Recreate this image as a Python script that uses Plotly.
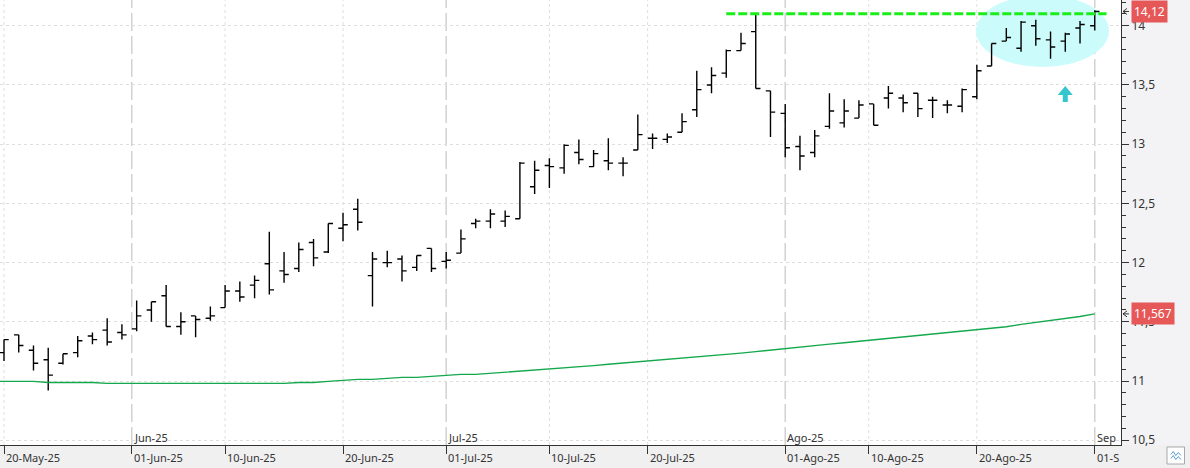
import pandas as pd
import plotly.graph_objects as go

# ---------------- data ----------------
trade_days = pd.bdate_range("2025-05-20", "2025-09-01")  # 75 sessions

opens = [11.24, 11.39, 11.26, 11.18, 11.15, 11.24, 11.38, 11.43, 11.41, 11.44,
         11.60, 11.72, 11.46, 11.55, 11.53, 11.62, 11.76, 11.81, 11.99, 11.93,
         11.95, 12.17, 12.09, 12.29, 12.45, 11.89, 12.00, 12.03, 11.96, 12.12,
         12.01, 12.08, 12.33, 12.35, 12.35, 12.37, 12.64, 12.82, 12.80, 12.93,
         12.81, 12.86, 12.84, 12.95, 13.05, 13.04, 13.10, 13.29, 13.50, 13.60,
         13.79, 13.95, 13.45, 13.26, 12.98, 12.93, 13.15, 13.18, 13.22, 13.34,
         13.39, 13.39, 13.43, 13.37, 13.33, 13.32, 13.40, 13.66, 13.87, 13.81,
         14.00, 13.88, 13.87, 13.98, 14.00]
highs = [11.35, 11.39, 11.30, 11.28, 11.23, 11.38, 11.41, 11.53, 11.48, 11.68,
         11.67, 11.81, 11.58, 11.55, 11.63, 11.81, 11.84, 11.89, 12.26, 12.09,
         12.17, 12.20, 12.33, 12.42, 12.54, 12.09, 12.10, 12.06, 12.06, 12.12,
         12.09, 12.28, 12.37, 12.45, 12.44, 12.85, 12.86, 12.88, 13.00, 13.04,
         12.95, 13.05, 12.89, 13.25, 13.09, 13.09, 13.26, 13.62, 13.65, 13.80,
         13.94, 14.10, 13.45, 13.34, 13.07, 13.12, 13.43, 13.38, 13.37, 13.34,
         13.49, 13.42, 13.43, 13.40, 13.37, 13.47, 13.67, 13.85, 13.98, 14.04,
         14.05, 13.95, 13.94, 14.04, 14.13]
lows = [11.17, 11.24, 11.09, 10.92, 11.14, 11.20, 11.31, 11.30, 11.35, 11.42,
        11.50, 11.46, 11.39, 11.37, 11.51, 11.62, 11.67, 11.70, 11.73, 11.83,
        11.92, 11.97, 12.08, 12.18, 12.27, 11.63, 11.96, 11.84, 11.93, 11.92,
        11.95, 12.08, 12.29, 12.29, 12.30, 12.37, 12.58, 12.63, 12.75, 12.83,
        12.81, 12.78, 12.73, 12.95, 12.96, 13.01, 13.10, 13.23, 13.43, 13.56,
        13.79, 13.47, 13.06, 12.89, 12.78, 12.89, 13.13, 13.14, 13.22, 13.16,
        13.30, 13.27, 13.23, 13.22, 13.26, 13.27, 13.38, 13.66, 13.87, 13.78,
        13.83, 13.72, 13.78, 13.85, 13.96]
closes = [11.35, 11.30, 11.15, 11.05, 11.23, 11.34, 11.35, 11.33, 11.39, 11.55,
          11.67, 11.46, 11.50, 11.52, 11.55, 11.76, 11.71, 11.85, 11.77, 11.90,
          12.11, 12.04, 12.33, 12.32, 12.34, 12.03, 12.00, 11.93, 12.06, 11.95,
          12.02, 12.20, 12.35, 12.41, 12.39, 12.84, 12.78, 12.81, 12.99, 12.87,
          12.92, 12.84, 12.84, 13.08, 13.05, 13.06, 13.19, 13.46, 13.58, 13.79,
          13.85, 13.47, 13.27, 12.97, 12.90, 13.07, 13.28, 13.28, 13.33, 13.16,
          13.43, 13.35, 13.30, 13.37, 13.33, 13.46, 13.62, 13.85, 13.90, 14.03,
          13.89, 13.82, 13.93, 14.01, 14.12]

# moving average, starting one session before the first bar (index -1)
ma_values = [10.997, 10.997, 10.997, 10.997, 10.988, 10.988, 10.988, 10.988,
             10.980, 10.980, 10.980, 10.980, 10.980, 10.980, 10.980, 10.980,
             10.980, 10.980, 10.980, 10.980, 10.980, 10.988, 10.988, 10.997,
             11.005, 11.014, 11.014, 11.022, 11.031, 11.031, 11.039, 11.048,
             11.056, 11.056, 11.065, 11.073, 11.082, 11.090, 11.098, 11.110,
             11.120, 11.130, 11.142, 11.152, 11.163, 11.176, 11.185, 11.195,
             11.203, 11.213, 11.225, 11.236, 11.248, 11.262, 11.275, 11.287,
             11.300, 11.312, 11.323, 11.335, 11.347, 11.360, 11.372, 11.386,
             11.397, 11.408, 11.419, 11.430, 11.445, 11.458, 11.478, 11.494,
             11.509, 11.524, 11.545, 11.567]

tick_dates = ["2025-05-20", "2025-06-01", "2025-06-10", "2025-06-20", "2025-07-01",
              "2025-07-10", "2025-07-20", "2025-08-01", "2025-08-10", "2025-08-20",
              "2025-09-01"]
tick_labels = ["20-May-25", "01-Jun-25", "10-Jun-25", "20-Jun-25", "01-Jul-25",
               "10-Jul-25", "20-Jul-25", "01-Ago-25", "10-Ago-25", "20-Ago-25", "01-S"]
month_dates = ["2025-06-01", "2025-07-01", "2025-08-01", "2025-09-01"]
month_labels = ["Jun-25", "Jul-25", "Ago-25", "Sep"]

resistance = highs[51]
circle_x = [65.94, 74.97]
circle_y = [13.651, 14.259]
arrow_anchor = (72, 13.355)

# ---------------- helpers ----------------
def cal_pos(d):
    d = pd.Timestamp(d)
    if d in trade_days:
        return float(trade_days.get_loc(d))
    j = trade_days.searchsorted(d)
    prev, nxt = trade_days[j - 1], trade_days[j]
    return (j - 1) + (d - prev).days / (nxt - prev).days

W, H = 1190, 468
ML, MR, MT, MB = 0, 69, 0, 23
PW, PH = W - ML - MR, H - MT - MB
XR = [-0.2714, 75.78]
YR = [10.460, 14.217]

def px2paper_x(px):
    return px / PW

def py2paper_y(py):
    return (PH - py) / PH

idx = list(range(len(trade_days)))
ma_x = list(range(-1, len(trade_days)))

fig = go.Figure()
fig.add_trace(go.Scatter(x=ma_x, y=ma_values, mode="lines",
                         line=dict(color="#14a84c", width=1.4), hoverinfo="skip",
                         showlegend=False))
fig.add_trace(go.Ohlc(x=idx, open=opens, high=highs, low=lows, close=closes,
                      increasing=dict(line=dict(color="#000000", width=1.4)),
                      decreasing=dict(line=dict(color="#000000", width=1.4)),
                      tickwidth=0.32, showlegend=False))

shapes = []
# background panels (right axis + bottom band)
shapes.append(dict(type="rect", xref="paper", yref="paper", x0=1, x1=W / PW,
                   y0=-MB / PH, y1=1, fillcolor="#f3f3f5", line=dict(width=0), layer="below"))
shapes.append(dict(type="rect", xref="paper", yref="paper", x0=0, x1=W / PW,
                   y0=-MB / PH, y1=0, fillcolor="#f0f0f0", line=dict(width=0), layer="below"))

tick_pos = [cal_pos(d) for d in tick_dates]
month_pos = [cal_pos(d) for d in month_dates]
for p in tick_pos:
    if any(abs(p - m) < 1e-9 for m in month_pos):
        shapes.append(dict(type="line", xref="x", yref="paper", x0=p, x1=p, y0=0, y1=1,
                           line=dict(color="#d2d2d2", width=1.5, dash="18px,5px"), layer="below"))
    else:
        shapes.append(dict(type="line", xref="x", yref="paper", x0=p, x1=p, y0=0, y1=1,
                           line=dict(color="#dedede", width=1, dash="3px,3px"), layer="below"))

# highlight ellipse
shapes.append(dict(type="circle", xref="x", yref="y", x0=circle_x[0], x1=circle_x[1],
                   y0=circle_y[0], y1=circle_y[1], fillcolor="#ccfbfc",
                   line=dict(width=0), layer="between"))
# resistance
shapes.append(dict(type="line", xref="x", yref="y", x0=49, x1=74.8, y0=resistance, y1=resistance,
                   line=dict(color="#19ee19", width=3, dash="9px,3px")))
# up arrow
shapes.append(dict(type="path", xref="x", yref="y", xsizemode="pixel", ysizemode="pixel",
                   xanchor=arrow_anchor[0], yanchor=arrow_anchor[1],
                   path="M -2.5,0 L 2.5,0 L 2.5,7 L 7.5,7 L 0,16 L -7.5,7 L -2.5,7 Z",
                   fillcolor="#33c6cc", line=dict(width=0)))
# price pointers on the right axis
for v in [closes[-1], ma_values[-1]]:
    shapes.append(dict(type="path", xref="paper", yref="y", xsizemode="pixel", ysizemode="pixel",
                       xanchor=1, yanchor=v,
                       path="M 6,3 L 2,0 L 6,-3 M 2,0 L 8,0",
                       line=dict(color="#333333", width=1)))
# small icon at bottom right
shapes.append(dict(type="rect", xref="paper", yref="paper",
                   x0=px2paper_x(1167), x1=px2paper_x(1184.5),
                   y0=py2paper_y(464), y1=py2paper_y(447),
                   fillcolor="#ffffff", line=dict(color="#a8a8a8", width=1)))
shapes.append(dict(type="path", xref="paper", yref="paper", xsizemode="pixel", ysizemode="pixel",
                   xanchor=px2paper_x(1175.8), yanchor=py2paper_y(455.5),
                   path="M -5,1 L -2.5,4 L 0,0 L 2.5,3 L 5,0 M -5,-3 L -2.5,0 L 0,-4 L 2.5,-1 L 5,-4",
                   line=dict(color="#5b9bd5", width=1)))

annotations = []
lab_font = dict(family="Noto Sans", size=11, color="#333333")
for p, t in zip(tick_pos, tick_labels):
    annotations.append(dict(x=p, xref="x", y=py2paper_y(457), yref="paper", text=t,
                            showarrow=False, xanchor="left", yanchor="middle", xshift=0,
                            font=lab_font))
for p, t in zip(month_pos, month_labels):
    annotations.append(dict(x=p, xref="x", y=py2paper_y(437), yref="paper", text=t,
                            showarrow=False, xanchor="left", yanchor="middle", xshift=0,
                            font=lab_font))
for v, txt in [(closes[-1], f"{closes[-1]:.2f}".replace(".", ",")),
               (ma_values[-1], f"{ma_values[-1]:.3f}".replace(".", ","))]:
    annotations.append(dict(x=px2paper_x(1131), xref="paper", y=v, yref="y", text=txt,
                            showarrow=False, xanchor="left", yanchor="middle",
                            bgcolor="#e65858", borderpad=2,
                            font=dict(family="Noto Sans", size=12, color="#ffffff")))

fig.update_layout(
    width=W, height=H,
    margin=dict(l=ML, r=MR, t=MT, b=MB, pad=0),
    paper_bgcolor="#ffffff", plot_bgcolor="#ffffff",
    separators=",.",
    showlegend=False,
    shapes=shapes, annotations=annotations,
    xaxis=dict(range=XR, showgrid=False, zeroline=False, showline=True, linecolor="#333333",
               linewidth=1, tickmode="array", tickvals=tick_pos, ticks="outside", ticklen=8,
               tickcolor="#333333", showticklabels=False, rangeslider=dict(visible=False),
               fixedrange=True),
    yaxis=dict(range=YR, side="right", showgrid=True, gridcolor="#dedede", griddash="3px,3px",
               gridwidth=1, zeroline=False, showline=True, linecolor="#333333", linewidth=1,
               tickmode="linear", tick0=10.5, dtick=0.5, ticks="outside", ticklen=7,
               tickcolor="#333333", tickfont=dict(family="Noto Sans", size=12, color="#333333"),
               minor=dict(dtick=0.1, tick0=10.5, ticks="outside", ticklen=4,
                          tickcolor="#333333", showgrid=False),
               fixedrange=True),
)

fig.write_html("out.html")
